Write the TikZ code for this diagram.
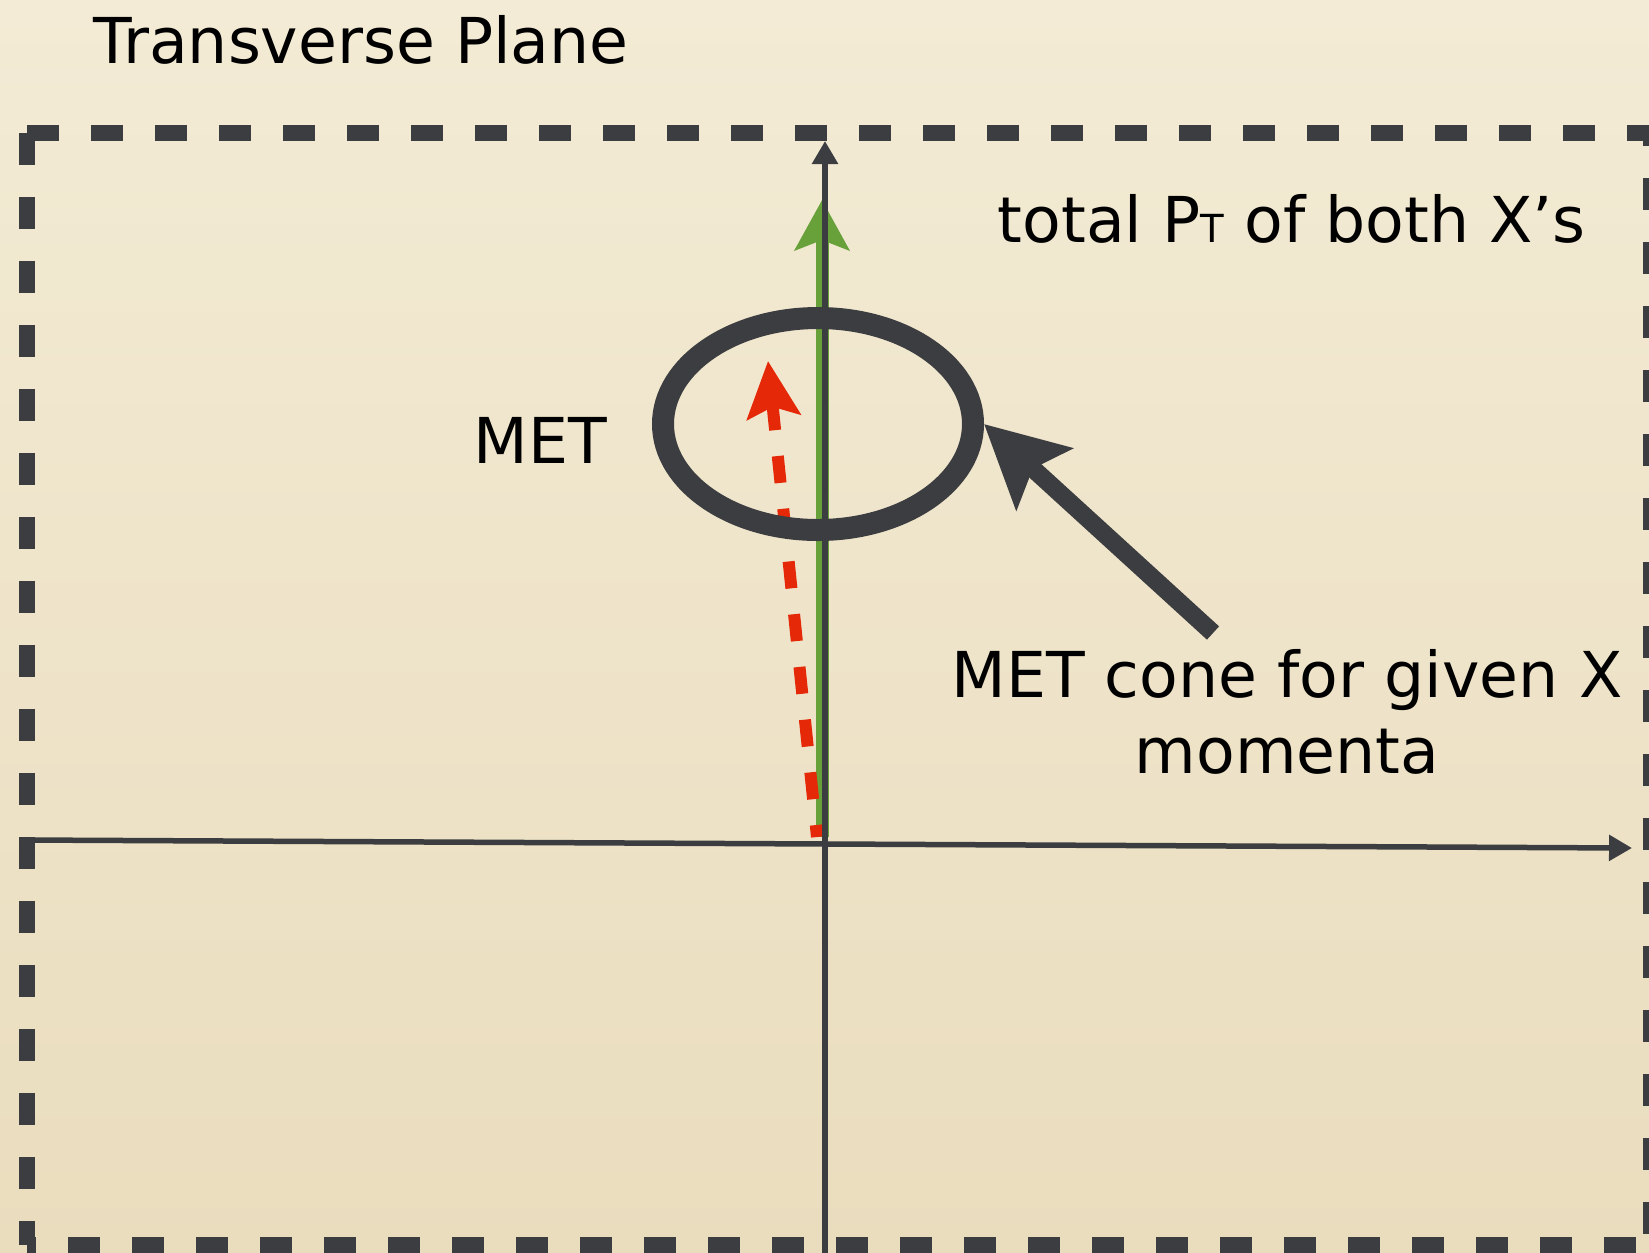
\documentclass[tikz,border=0pt]{standalone}
\usepackage{fontspec}
\setmainfont{DejaVu Sans}
\usetikzlibrary{positioning, arrows.meta, shapes.geometric}
\definecolor{slate}{RGB}{60,61,64}
\definecolor{ptGreen}{RGB}{104,160,58}
\definecolor{metRed}{RGB}{228,40,8}
\definecolor{paperTop}{RGB}{243,235,213}
\definecolor{paperBot}{RGB}{234,221,190}
\tikzset{
  % Dashed frame of the plane
  frameline/.style={
    draw=slate, line width=0.16cm,
    dash pattern=on 0.32cm off 0.32cm
  },
  % Coordinate axes
  axisline/.style={
    draw=slate, line width=0.055cm,
    -{Triangle[length=0.23cm, width=0.25cm]}
  },
  % Total pT of the two X's
  ptArrow/.style={
    draw=ptGreen, line width=0.13cm,
    -{Stealth[length=0.50cm, width=0.54cm, inset=0.1cm]}
  },
  % Missing energy
  metArrow/.style={
    draw=metRed, line width=0.12cm,
    dash pattern=on 0.27cm off 0.26cm, dash phase=0.15cm,
    -{Stealth[length=0.56cm, width=0.53cm, inset=0.1cm]}
  },
  % Cone ring and its pointer
  coneRing/.style={
    draw=slate, ellipse, line width=0.22cm, inner sep=0pt,
    minimum width=3.1cm, minimum height=2.12cm
  },
  pointer/.style={
    draw=slate, line width=0.18cm,
    -{Stealth[length=0.81cm, width=0.82cm, inset=0.15cm]}
  },
  txt/.style={
    font=\fontsize{18}{21.6}\selectfont, inner sep=0pt, text=black
  },
}

\begin{document}
\begin{tikzpicture}

  %% ── Paper ──
  \useasboundingbox (0,0) rectangle (16.49,-12.52);
  \clip (0,0) rectangle (16.49,-12.52);
  \shade[top color=paperTop, bottom color=paperBot] (0,0) rectangle (16.49,-12.52);

  %% ── Frame ──
  \coordinate (tl) at (0.27,-1.33);
  \coordinate (tr) at (16.51,-1.33);
  \coordinate (bl) at (0.27,-12.45);
  \coordinate (br) at (16.51,-12.45);
  \draw[frameline] (tl) -- (tr);
  \draw[frameline] (tl) -- (bl);
  \draw[frameline, dash phase=0.19cm] (tr) -- (br);
  \draw[frameline, dash phase=0.23cm] (bl) -- (br);

  %% ── Momenta ──
  \coordinate (ptTail)  at (8.22,-8.37);
  \coordinate (ptTip)   at (8.22,-2.00);
  \coordinate (metTail) at (8.17,-8.37);
  \coordinate (metTip)  at (7.68,-3.61);
  \draw[ptArrow]  (ptTail) -- (ptTip);
  \draw[metArrow] (metTail) -- (metTip);

  %% ── Axes ──
  \coordinate (xStart) at (0.27,-8.40);
  \coordinate (xEnd)   at (16.32,-8.48);
  \coordinate (yStart) at (8.25,-12.60);
  \coordinate (yEnd)   at (8.25,-1.41);
  \draw[axisline] (xStart) -- (xEnd);
  \draw[axisline] (yStart) -- (yEnd);

  %% ── Cone ──
  \node[coneRing] (cone) at (8.18,-4.24) {};
  \coordinate (pointerTail) at (12.13,-6.33);
  \draw[pointer] (pointerTail) -- (cone.east);

  %% ── Labels ──
  \node[txt, anchor=base west] (title)  at (0.93,-0.63) {Transverse Plane};
  \node[txt, anchor=base west] (metLbl) at (4.73,-4.63) {MET};
  \node[txt, anchor=base west] (ptLbl)  at (9.97,-2.42)
       {total P{\fontsize{11}{13}\selectfont T} of both X’s};
  \node[txt, align=center, anchor=north] (coneLbl) at (12.87,-6.49)
       {MET cone for given X\\momenta};

\end{tikzpicture}
\end{document}
